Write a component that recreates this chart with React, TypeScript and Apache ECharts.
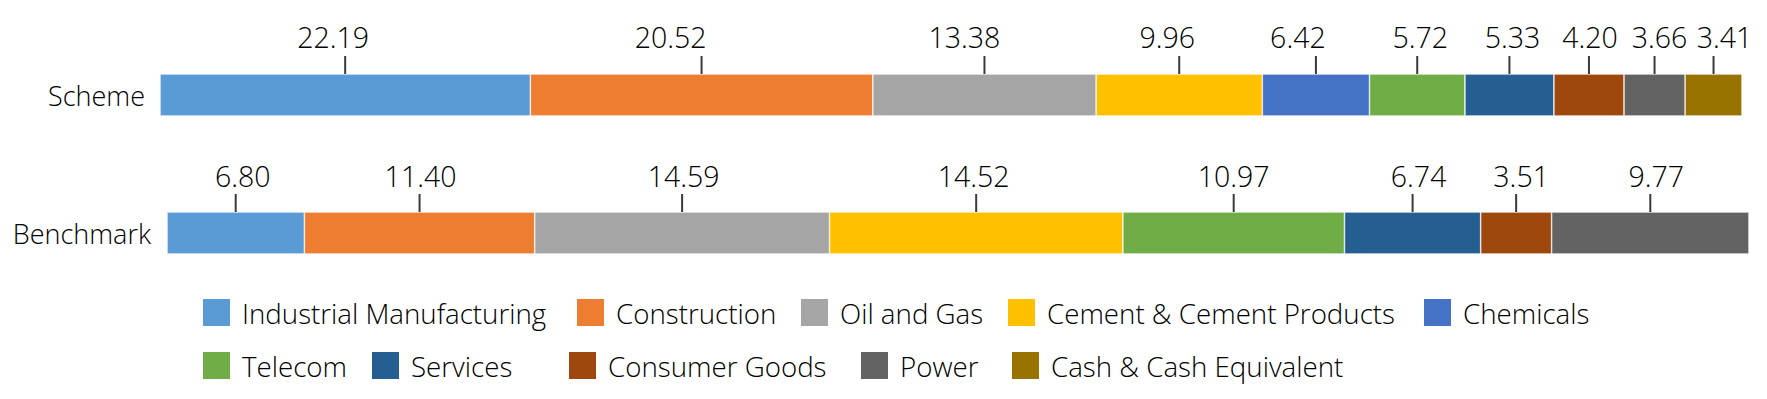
import React, { useEffect, useRef } from "react";
import * as echarts from "echarts";

const sectors = [
  "Industrial Manufacturing",
  "Construction",
  "Oil and Gas",
  "Cement & Cement Products",
  "Chemicals",
  "Telecom",
  "Services",
  "Consumer Goods",
  "Power",
  "Cash & Cash Equivalent",
];
const colors = [
  "#5B9BD5",
  "#ED7D31",
  "#A5A5A5",
  "#FFC000",
  "#4472C4",
  "#70AD47",
  "#255E91",
  "#9E480E",
  "#636363",
  "#997300",
];
const schemeValues = [22.19, 20.52, 13.38, 9.96, 6.42, 5.72, 5.33, 4.2, 3.66, 3.41];
const benchmarkValues = [6.8, 11.4, 14.59, 14.52, 0, 10.97, 6.74, 3.51, 9.77, 0];
const rows = ["Scheme", "Benchmark"];

// horizontal shift (px) of each value label relative to its leader tick
const schemeLabelShift = [-12, -31, -20, -12, -18, 3, 3, 1, 5, 11];
const benchmarkLabelShift = [7, 1, 1.5, -2.5, 0, 0, 6, 5, 6, 0];

// legend item placement (px)
const legendPos = [
  [201, 297],
  [575, 297],
  [799, 297],
  [1006, 297],
  [1422, 297],
  [201, 350],
  [370, 350],
  [567, 350],
  [859, 350],
  [1010, 350],
];

const FONT = '"Open Sans", sans-serif';
const TEXT = "#000000";

function labelData(values: number[], shifts: number[]) {
  const out: number[][] = [];
  let cum = 0;
  values.forEach((v, i) => {
    if (v > 0) out.push([cum + v / 2, 0, v, shifts[i]]);
    cum += v;
  });
  return out;
}

export default function App() {
  const ref = useRef<HTMLDivElement>(null);
  useEffect(() => {
    document.body.style.margin = "0";
    if (!ref.current) return;
    const chart = echarts.init(ref.current, null, { renderer: "svg" });
    const allValues = [schemeValues, benchmarkValues];
    const allShifts = [schemeLabelShift, benchmarkLabelShift];
    const totals = allValues.map((a) => a.reduce((s, v) => s + v, 0));

    const grids = [
      { left: 160, width: 1582, top: 74, height: 42 },
      { left: 167, width: 1582, top: 212, height: 42 },
    ];
    const textOffsets = [37, 36];

    const series: any[] = [];
    allValues.forEach((vals, gi) => {
      vals.forEach((v, si) => {
        series.push({
          type: "bar",
          name: sectors[si],
          xAxisIndex: gi,
          yAxisIndex: gi,
          stack: "s" + gi,
          barWidth: "100%",
          itemStyle: { color: colors[si], borderColor: "#ffffff", borderWidth: 0.6 },
          data: [v > 0 ? v : null],
        });
      });
      series.push({
        type: "custom",
        xAxisIndex: gi,
        yAxisIndex: gi,
        silent: true,
        z: 5,
        data: labelData(vals, allShifts[gi]),
        renderItem: (params: any, api: any) => {
          const x = api.value(0);
          const v = api.value(2);
          const shift = api.value(3);
          const pt = api.coord([x, 0]);
          const h = api.size([0, 1])[1];
          const top = pt[1] - h / 2;
          return {
            type: "group",
            children: [
              {
                type: "line",
                shape: { x1: pt[0], y1: top - 18, x2: pt[0], y2: top },
                style: { stroke: "#3a3a3a", lineWidth: 2 },
              },
              {
                type: "text",
                x: pt[0] + shift,
                y: top - textOffsets[gi],
                style: {
                  text: Number(v).toFixed(2),
                  fill: TEXT,
                  font: `300 28.5px ${FONT}`,
                  align: "center",
                  verticalAlign: "middle",
                },
              },
            ],
          };
        },
      });
    });

    const legends = sectors.map((name, i) => ({
      data: [name],
      left: legendPos[i][0],
      top: legendPos[i][1],
      padding: 0,
      itemWidth: 29,
      itemHeight: 29,
      icon: "rect",
      selectedMode: false,
      textStyle: {
        fontFamily: FONT,
        fontWeight: 300,
        fontSize: 27.7,
        color: TEXT,
        lineHeight: 29,
        padding: [0, 0, 0, 6],
      },
    }));

    chart.setOption({
      animation: false,
      backgroundColor: "#ffffff",
      textStyle: { fontFamily: FONT },
      grid: grids,
      xAxis: grids.map((_, gi) => ({
        type: "value",
        gridIndex: gi,
        min: 0,
        max: totals[gi],
        show: false,
      })),
      yAxis: grids.map((_, gi) => ({
        type: "category",
        gridIndex: gi,
        data: [rows[gi]],
        axisLine: { show: false },
        axisTick: { show: false },
        axisLabel: {
          fontFamily: FONT,
          fontWeight: 300,
          fontSize: 27,
          color: TEXT,
          margin: gi === 0 ? 15 : 16,
        },
      })),
      legend: legends,
      series,
    });
    return () => chart.dispose();
  }, []);
  return <div ref={ref} style={{ width: 1767, height: 399 }} />;
}
